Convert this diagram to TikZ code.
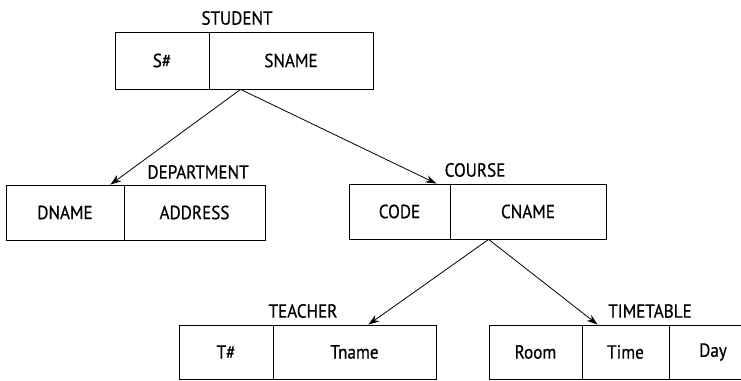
\documentclass[tikz,border=0pt]{standalone}
\usepackage{fontspec}
\setmainfont[FakeStretch=0.9,FakeBold=0.6]{PT Sans}
\usetikzlibrary{arrows.meta}
\begin{document}
\begin{tikzpicture}[x=1pt,y=-1pt,
  cell/.style={draw, line width=0.8pt, inner sep=0pt, minimum height=55pt,
    font=\fontsize{19}{22}\selectfont},
  title/.style={inner sep=0pt, font=\fontsize{19}{22}\selectfont},
  link/.style={line width=0.8pt, -{Stealth[length=11pt,width=7.5pt]}}]
\useasboundingbox (0,0) rectangle (741,380);

% STUDENT
\node[title] (studentlbl) at (237,18) {STUDENT};
\node[cell, minimum width=94pt, minimum height=57pt] (sno) at (162,60.5) {S\#};
\node[cell, minimum width=164pt, minimum height=57pt] (sname) at (291,60.5) {SNAME};

% DEPARTMENT
\node[title] (deptlbl) at (198,172) {DEPARTMENT};
\node[cell, minimum width=118pt] (dname) at (65,212.5) {DNAME};
\node[cell, minimum width=141pt] (address) at (194.5,212.5) {ADDRESS};

% COURSE
\node[title] (courselbl) at (475,170) {COURSE};
\node[cell, minimum width=101pt] (code) at (399.5,211.5) {CODE};
\node[cell, minimum width=156pt] (cname) at (528,211.5) {CNAME};

% TEACHER
\node[title] (teacherlbl) at (303,311) {TEACHER};
\node[cell, minimum width=94pt, minimum height=54pt] (tno) at (226,352) {T\#};
\node[cell, minimum width=163pt, minimum height=54pt] (tname) at (354.5,352) {Tname};

% TIMETABLE
\node[title] (timetablelbl) at (650,311) {TIMETABLE};
\node[cell, minimum width=93pt, minimum height=54pt] (room) at (535.5,352) {Room};
\node[cell, minimum width=87pt, minimum height=54pt] (time) at (625.5,352) {Time};
\node[cell, minimum width=88pt, minimum height=54pt] (day) at (713,352) {Day};

% connectors
\coordinate (sfork) at ([xshift=32pt]sname.south west);
\coordinate (cfork) at ([xshift=39pt]cname.south west);
\draw[link] (sfork) -- ([xshift=-14pt]dname.north east);
\draw[link] (sfork) -- ([xshift=-14pt]code.north east);
\draw[link] (cfork) -- ([xshift=-68pt]tname.north east);
\draw[link] (cfork) -- ([xshift=16pt]time.north west);
\end{tikzpicture}
\end{document}
